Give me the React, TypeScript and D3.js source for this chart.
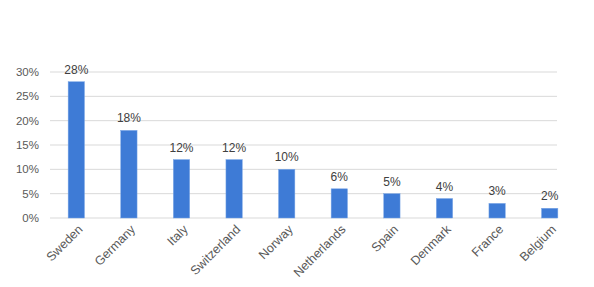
import React from "react";
import * as d3 from "d3";

const categories = ["Sweden", "Germany", "Italy", "Switzerland", "Norway", "Netherlands", "Spain", "Denmark", "France", "Belgium"];
const values = [28, 18, 12, 12, 10, 6, 5, 4, 3, 2];
const yTicks = [0, 5, 10, 15, 20, 25, 30];

export default function App() {
  const W = 594, H = 287;
  const left = 50, bandRight = 576, gridRight = 557;
  const top = 72, bottom = 218;
  const x = d3.scaleBand<string>().domain(categories).range([left, bandRight]).paddingInner(0.69).paddingOuter(0.345);
  const y = d3.scaleLinear().domain([0, 30]).range([bottom, top]);
  const font = "'Liberation Sans', Arial, sans-serif";
  return (
    <svg width={W} height={H} style={{ position: "absolute", left: 0, top: 0, background: "#fff" }}>
      {yTicks.map((t) => (
        <g key={t}>
          <line x1={left} x2={gridRight} y1={y(t)} y2={y(t)} stroke="#d9d9d9" strokeWidth={1} />
          <text x={39} y={y(t)} dy="0.35em" textAnchor="end" fontSize={11.5} fill="#595959" fontFamily={font}>{t}%</text>
        </g>
      ))}
      {categories.map((c, i) => {
        const bx = x(c)!;
        const bw = x.bandwidth();
        const cx = bx + bw / 2;
        return (
          <g key={c}>
            <rect x={bx} y={y(values[i])} width={bw} height={bottom - y(values[i])} fill="#3E7BD6" stroke="#7aa6e6" strokeWidth={0.5} />
            <text x={cx} y={y(values[i]) - 8} textAnchor="middle" fontSize={12} fill="#404040" fontFamily={font}>{values[i]}%</text>
            <text transform={`translate(${cx + 4},${bottom + 9}) rotate(-45)`} textAnchor="end" dy="0.35em" fontSize={12.5} fill="#595959" fontFamily={font}>{c}</text>
          </g>
        );
      })}
    </svg>
  );
}
